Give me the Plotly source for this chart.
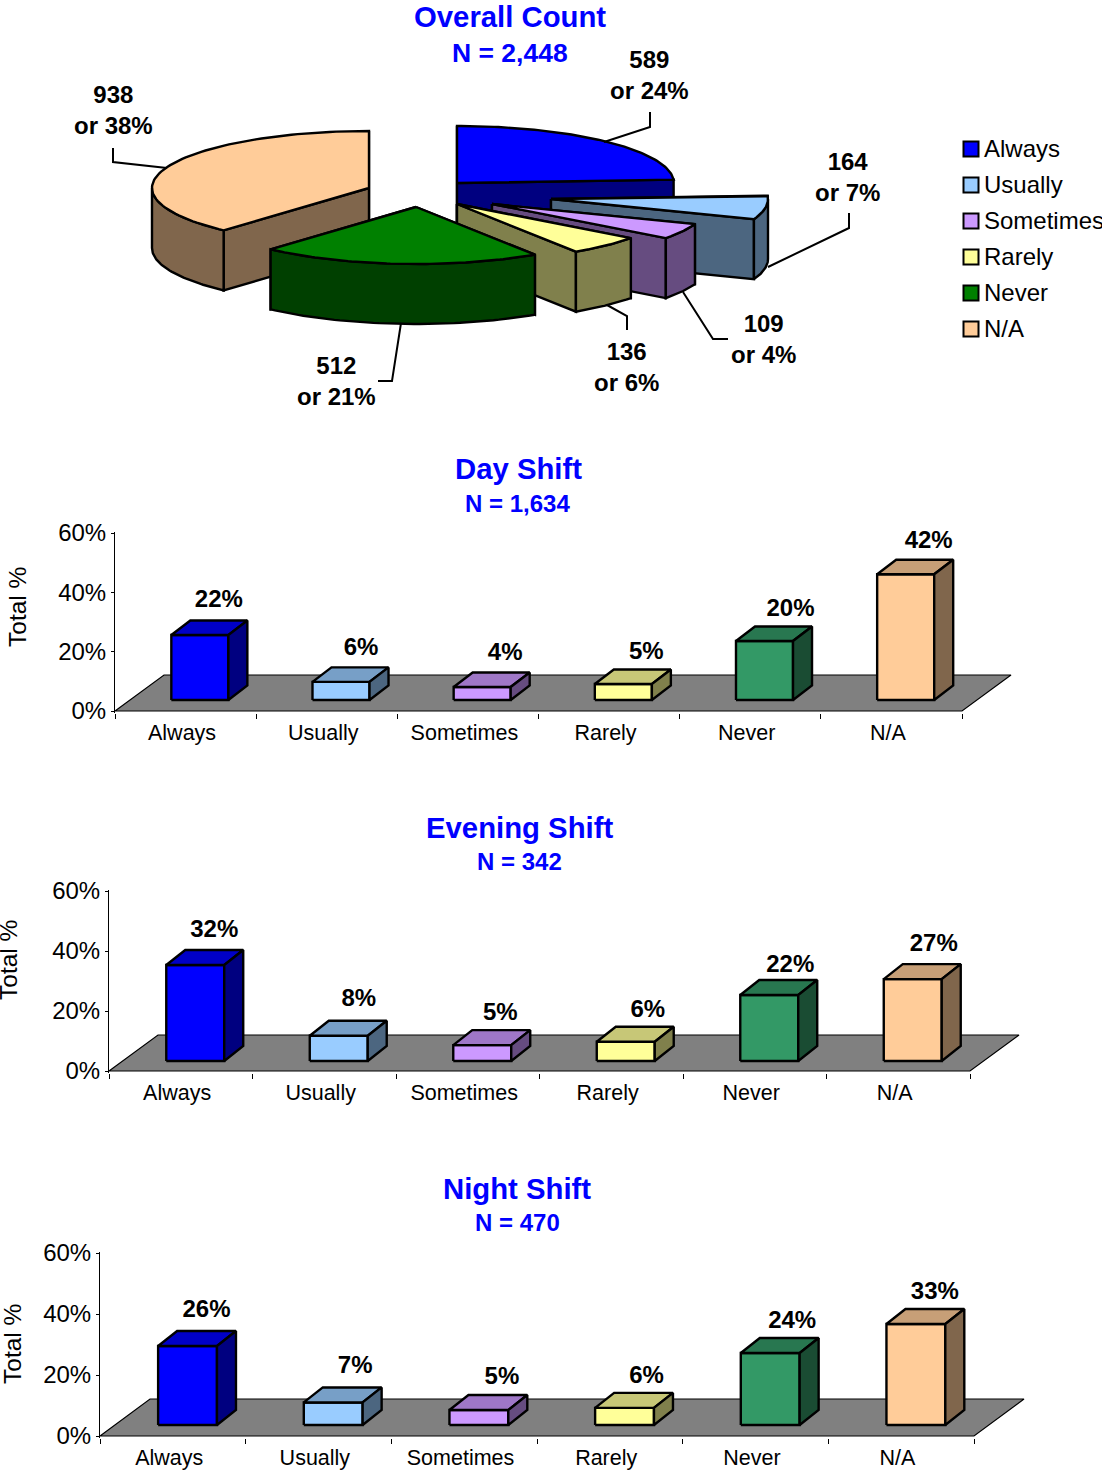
import numpy as np
import plotly.graph_objects as go

# ---------- data ----------
categories = ["Always", "Usually", "Sometimes", "Rarely", "Never", "N/A"]
overall_counts = [589, 164, 109, 136, 512, 938]
day_values = [21.9, 6.1, 4.4, 5.4, 19.9, 42.4]
evening_values = [32.0, 8.4, 5.3, 6.4, 22.0, 27.3]
night_values = [25.9, 7.4, 4.9, 5.6, 23.6, 33.1]
y_ticks = [0, 20, 40, 60]

# ---------- styles ----------
BLACK = "#000000"
BLUE = "#0000FF"
FONT = "Liberation Sans, Arial, sans-serif"
OUTLINE = 2.4
bar_colors = ["#0000FF", "#99CCFF", "#CC99FF", "#FFFF99", "#339966", "#FFCC99"]
pie_colors = ["#0000FF", "#99CCFF", "#CC99FF", "#FFFF99", "#008000", "#FFCC99"]


def shade(hex_color, f):
    r, g, b = (int(hex_color[i:i + 2], 16) for i in (1, 3, 5))
    return f"rgb({round(r * f)},{round(g * f)},{round(b * f)})"


fig = go.Figure()


def polygon(xs, ys, fill, xa="x", ya="y", lw=OUTLINE):
    fig.add_trace(go.Scatter(
        x=list(xs) + [xs[0]], y=list(ys) + [ys[0]], mode="lines", fill="toself",
        fillcolor=fill, line=dict(color=BLACK, width=lw), xaxis=xa, yaxis=ya,
        hoverinfo="skip", showlegend=False))


# ---------- exploded 3-D pie, in canvas-pixel overlay axes ----------
RX, RY, H = 217, 57, 60
pie_apex = [(457, 183), (551, 199), (492, 204), (457, 204), (416, 207), (369, 188)]
pie_draw_order = [5, 0, 1, 2, 3, 4]
fractions = np.array(overall_counts) / sum(overall_counts)
edges = np.concatenate([[0], np.cumsum(fractions)]) * 360


def rim(cx, cy, deg):
    t = np.radians(deg)
    return cx + RX * np.sin(t), cy - RY * np.cos(t)


for i in pie_draw_order:
    cx, cy = pie_apex[i]
    a0, a1 = edges[i], edges[i + 1]
    top, dark = pie_colors[i], shade(pie_colors[i], 0.5)
    r0, r1 = rim(cx, cy, a0), rim(cx, cy, a1)
    # the cut face nearer the viewer goes last
    faces = sorted([(a0, r0, 0), (a1, r1, 1)], key=lambda f: np.cos(np.radians(f[0] + (90 if f[2] else -90))), reverse=True)
    for ang, r, _ in faces:
        polygon([cx, r[0], r[0], cx], [cy, r[1], r[1] + H, cy + H], dark)
    lo, hi = max(a0, 90), min(a1, 270)
    if hi > lo:
        px, py = rim(cx, cy, np.linspace(lo, hi, 50))
        polygon(list(px) + list(px[::-1]), list(py) + list((py + H)[::-1]), dark)
    px, py = rim(cx, cy, np.linspace(a0, a1, 80))
    polygon([cx] + list(px), [cy] + list(py), top)

leaders = [
    [(650, 112), (650, 127), (604, 142)],
    [(849, 213), (849, 228), (768, 267)],
    [(728, 339), (713, 339), (683, 292)],
    [(627, 330), (627, 316), (607, 305)],
    [(378, 381), (392, 381), (401, 323)],
    [(113, 148), (113, 162), (167, 168)],
]
for pts in leaders:
    fig.add_trace(go.Scatter(x=[p[0] for p in pts], y=[p[1] for p in pts], mode="lines",
                             line=dict(color=BLACK, width=2), hoverinfo="skip", showlegend=False))

annotations = []


def note(x, y, text, size, color=BLACK, bold=True, angle=0):
    annotations.append(dict(
        x=x, y=y, xref="x", yref="y", text=f"<b>{text}</b>" if bold else text, showarrow=False,
        xanchor="center", yanchor="middle", textangle=angle,
        font=dict(family=FONT, size=size, color=color)))


pie_label_pos = [(649.5, 75), (847.5, 177), (763, 338.5), (626, 366.5), (336, 380.5), (113, 109.5)]
for (x, y), count, frac in zip(pie_label_pos, overall_counts, fractions):
    note(x, y, f"{count}<br>or {round(frac * 100)}%", 24)

note(510, 16, "Overall Count", 29.3, BLUE)
note(510, 53, f"N = {sum(overall_counts):,}", 26.5, BLUE)

# legend
legend_y = [149 + 36 * i for i in range(len(categories))]
fig.add_trace(go.Scatter(
    x=[971] * len(categories), y=legend_y, mode="markers",
    marker=dict(symbol="square", size=15, color=pie_colors, line=dict(color=BLACK, width=2)),
    hoverinfo="skip", showlegend=False))
for y, name in zip(legend_y, categories):
    annotations.append(dict(
        x=982, y=y - 1, xref="x", yref="y", text=name, showarrow=False, xanchor="left", yanchor="middle",
        font=dict(family=FONT, size=24, color=BLACK)))

# ---------- 3-D column charts ----------
W_PX, H_PX = 1102, 1471
charts = [
    dict(values=day_values, title="Day Shift", n="N = 1,634", x0=115, x1=962, top=533, bot=711,
         floor=(49, 36), lift=11, depth=(19, 14.5), title_xy=(518, 468), n_xy=(517, 503), ylab=(17, 607),
         label_dx=[0, 1, 4, 4, 7, 4], label_up=[20, 18, 18, 16, 16, 18]),
    dict(values=evening_values, title="Evening Shift", n="N = 342", x0=109, x1=970, top=891, bot=1071,
         floor=(49, 36), lift=10, depth=(19, 15), title_xy=(519, 827), n_xy=(519, 861), ylab=(8, 960),
         label_dx=[0, 1, -1, 3, 2, 2], label_up=[19, 21, 16, 16, 14, 19]),
    dict(values=night_values, title="Night Shift", n="N = 470", x0=100, x1=974, top=1253, bot=1436,
         floor=(50, 37), lift=11, depth=(19, 15), title_xy=(517, 1188), n_xy=(517, 1222), ylab=(12, 1344),
         label_dx=[0, 3, 4, 3, 3, 0], label_up=[20, 20, 17, 16, 16, 16]),
]
layout_axes = {}
for k, c in enumerate(charts):
    n = k + 2
    xa, ya = f"x{n}", f"y{n}"
    bin_px = (c["x1"] - c["x0"]) / 6
    ppu = (c["bot"] - c["top"]) / 60
    pad = 1.5
    fdx, fdy = c["floor"][0] / bin_px, c["floor"][1] / ppu
    ddx, ddy = c["depth"][0] / bin_px, c["depth"][1] / ppu
    base = c["lift"] / ppu

    polygon([0, 6, 6 + fdx, fdx], [0, 0, fdy, fdy], "#808080", xa, ya, 1.2)
    lx, ly, lt = [], [], []
    for i, v in enumerate(c["values"]):
        l, r, b, t = i + 0.399, i + 0.803, base, base + v
        col = bar_colors[i]
        polygon([l, r, r, l], [b, b, t, t], col, xa, ya)
        polygon([l, r, r + ddx, l + ddx], [t, t, t + ddy, t + ddy], shade(col, 0.78), xa, ya)
        polygon([r, r + ddx, r + ddx, r], [b, b + ddy, t + ddy, t], shade(col, 0.5), xa, ya)
        lx.append((l + r) / 2 + ddx + c["label_dx"][i] / bin_px)
        ly.append(t + ddy + c["label_up"][i] / ppu)
        lt.append(f"<b>{round(v)}%</b>")
    fig.add_trace(go.Scatter(x=lx, y=ly, text=lt, mode="text", textposition="middle center", cliponaxis=False,
                             textfont=dict(family=FONT, size=24, color=BLACK), xaxis=xa, yaxis=ya,
                             hoverinfo="skip", showlegend=False))

    x_end = c["x1"] + c["floor"][0] + 2
    layout_axes[f"xaxis{n}"] = dict(
        domain=[c["x0"] / W_PX, x_end / W_PX], range=[0, (x_end - c["x0"]) / bin_px], anchor=ya,
        showline=False, showgrid=False, zeroline=False, fixedrange=True,
        tickmode="array", tickvals=[i + 0.475 for i in range(6)], ticktext=categories,
        ticks="outside", ticklen=1, tickcolor="rgba(0,0,0,0)",
        tickfont=dict(family=FONT, size=21.5, color=BLACK),
        minor=dict(tickmode="array", tickvals=list(range(7)), ticks="outside", ticklen=5,
                   tickcolor=BLACK, tickwidth=1, showgrid=False))
    layout_axes[f"yaxis{n}"] = dict(
        domain=[1 - (c["bot"] + pad) / H_PX, 1 - (c["top"] - pad) / H_PX],
        range=[-pad / ppu, 60 + pad / ppu], anchor=xa,
        showline=True, linecolor=BLACK, linewidth=1, showgrid=False, zeroline=False, fixedrange=True,
        tickmode="array", tickvals=y_ticks, ticktext=[f"{t}%" for t in y_ticks],
        ticks="outside", ticklen=3, tickcolor=BLACK, tickwidth=1,
        tickfont=dict(family=FONT, size=24, color=BLACK))

    note(*c["title_xy"], c["title"], 29.3, BLUE)
    note(*c["n_xy"], c["n"], 24, BLUE)
    note(*c["ylab"], "Total %", 24.5, BLACK, bold=False, angle=-90)

fig.update_layout(
    width=W_PX, height=H_PX, margin=dict(l=0, r=0, t=0, b=0, autoexpand=False),
    paper_bgcolor="white", plot_bgcolor="rgba(0,0,0,0)", showlegend=False,
    font=dict(family=FONT), annotations=annotations,
    xaxis=dict(domain=[0, 1], range=[0, W_PX], visible=False, fixedrange=True),
    yaxis=dict(domain=[0, 1], range=[H_PX, 0], visible=False, fixedrange=True),
    **layout_axes)

fig.write_html("out.html", config=dict(displayModeBar=False),
               post_script="document.body.style.margin='0';document.body.style.overflow='hidden';")
